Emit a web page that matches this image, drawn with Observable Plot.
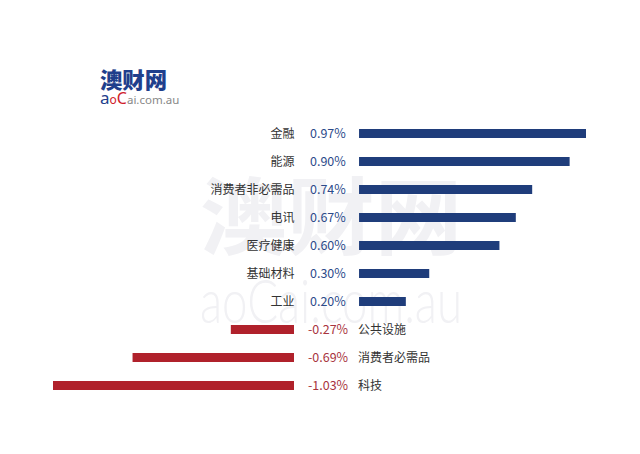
<!DOCTYPE html>
<html>
<head>
<meta charset="utf-8">
<script src="https://cdn.jsdelivr.net/npm/d3@7"></script>
<script src="https://cdn.jsdelivr.net/npm/@observablehq/plot@0.6"></script>
<style>
  html, body { margin: 0; padding: 0; background: #fff; }
  #wrap { position: relative; width: 640px; height: 454px; overflow: hidden; font-family: "Noto Sans CJK SC", "Noto Sans", sans-serif; }
  #bg { position: absolute; left: 0; top: 0; }
  #chart { position: absolute; left: 0; top: 0; }
  #logo { position: absolute; left: 100px; top: 60px; }
</style>
</head>
<body>
<div id="wrap">
  <svg id="bg" width="640" height="454">
    <text x="200" y="248" font-family="Noto Sans CJK SC" font-weight="bold" font-size="84" fill="#f1f1f4" textLength="262" lengthAdjust="spacingAndGlyphs">澳财网</text>
    <text x="200" y="323" font-family="Lato, sans-serif" font-weight="300" font-size="62" fill="#f1f1f4" textLength="262" lengthAdjust="spacingAndGlyphs">aoCai.com.au</text>
  </svg>
  <div id="chart"></div>
  <svg id="logo" width="90" height="50">
    <text x="0" y="28" font-family="Noto Sans CJK SC" font-weight="900" font-size="22" fill="#1f3f8c" textLength="67" lengthAdjust="spacingAndGlyphs">澳财网</text>
    <text x="0" y="44" font-family="Noto Sans, sans-serif" fill="#888"><tspan font-size="17" fill="#1f3f8c">a</tspan><tspan font-size="12" fill="#d0202a">o</tspan><tspan font-size="16" fill="#d0202a">C</tspan><tspan font-size="11.5">ai.com.au</tspan></text>
  </svg>
</div>
<script>
const categories = ["金融","能源","消费者非必需品","电讯","医疗健康","基础材料","工业","公共设施","消费者必需品","科技"];
const values = [0.97, 0.90, 0.74, 0.67, 0.60, 0.30, 0.20, -0.27, -0.69, -1.03];

const GAP = 0.278; // visual gap between negative and positive bar origins (value units)
const navy = "#1f3d7b";
const red = "#b0212b";
const navyText = "#2d4b8a";
const redText = "#a8343e";

const data = categories.map((c, i) => ({cat: c, v: values[i], label: values[i].toFixed(2) + "%"}));
const pos = data.filter(d => d.v >= 0);
const neg = data.filter(d => d.v < 0);

const chart = Plot.plot({
  width: 640,
  height: 454,
  marginLeft: 53,
  marginRight: 54,
  marginTop: 109.4,
  marginBottom: 44.4,
  style: {background: "transparent", fontFamily: "'Noto Sans CJK SC', 'Noto Sans', sans-serif"},
  x: {domain: [-1.03, 0.97 + GAP], axis: null},
  y: {domain: categories, padding: 0.68, axis: null},
  marks: [
    Plot.barX(data, {
      y: "cat",
      x1: d => d.v >= 0 ? GAP : d.v,
      x2: d => d.v >= 0 ? d.v + GAP : 0,
      fill: d => d.v >= 0 ? navy : red
    }),
    Plot.text(pos, {y: "cat", x: 0, text: "cat", textAnchor: "end", fill: "#333", fontSize: 12}),
    Plot.text(pos, {y: "cat", x: 0, dx: 15.5, text: "label", textAnchor: "start", fill: navyText, fontSize: 12.5}),
    Plot.text(neg, {y: "cat", x: 0, dx: 13.5, text: "label", textAnchor: "start", fill: redText, fontSize: 12.5}),
    Plot.text(neg, {y: "cat", x: GAP, dx: -1.5, text: "cat", textAnchor: "start", fill: "#333", fontSize: 12})
  ]
});
document.getElementById("chart").appendChild(chart);
</script>
</body>
</html>
